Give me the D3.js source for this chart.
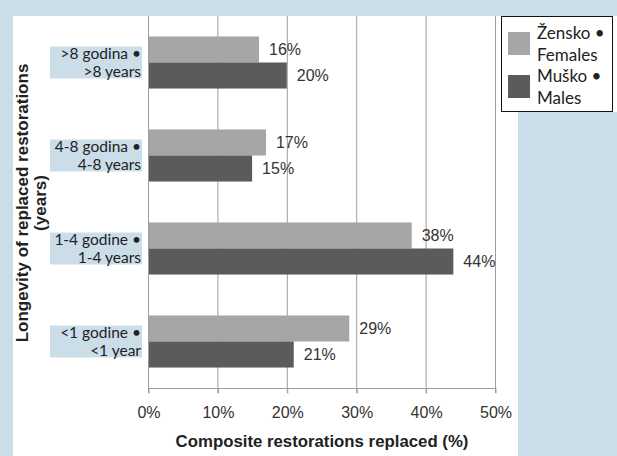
<!DOCTYPE html>
<html>
<head>
<meta charset="utf-8">
<script src="https://cdn.jsdelivr.net/npm/d3@7"></script>
<style>
  html, body { margin: 0; padding: 0; background: #cbdde9; }
  svg { display: block; }
</style>
</head>
<body>
<svg id="chart" width="617" height="456"></svg>
<script>
// Categories, top to bottom
const categories = [">8", "4-8", "1-4", "<1"];
const categoryLabels = [
  [">8 godina •", ">8 years"],
  ["4-8 godina •", "4-8 years"],
  ["1-4 godine •", "1-4 years"],
  ["<1 godine •", "<1 year"]
];
const legendLabels = [["Žensko •", "Females"], ["Muško •", "Males"]];
const females = [16, 17, 38, 29];
const males = [20, 15, 44, 21];
const xTicks = [0, 10, 20, 30, 40, 50];

const colors = ["#a6a6a8", "#5b5b5d"];
const blue = "#cbdde9";
const plainFont = "Liberation Sans, Arial, sans-serif";
const labelFont = "Lato, Open Sans, sans-serif";

const svg = d3.select("#chart");

// white panel behind the plot and legend
svg.append("rect").attr("x", 13).attr("y", 16).attr("width", 505).attr("height", 440).attr("fill", "#fff");
svg.append("rect").attr("x", 500).attr("y", 16).attr("width", 117).attr("height", 96).attr("fill", "#fff");

const plot = { left: 148, right: 495, top: 16, bottom: 388 };

const x = d3.scaleLinear().domain([0, 50]).range([plot.left, plot.right]);
const y = d3.scaleBand().domain(categories).range([plot.top, plot.bottom])
  .paddingInner(0.44).paddingOuter(0.22);
const ySub = d3.scaleBand().domain([0, 1]).range([0, y.bandwidth()]);

// gridlines
svg.append("g").selectAll("line").data(xTicks.slice(1)).join("line")
  .attr("x1", d => x(d) + 0.5).attr("x2", d => x(d) + 0.5)
  .attr("y1", plot.top).attr("y2", plot.bottom + 5)
  .attr("stroke", "#9d9d9d").attr("stroke-width", 1);

// bottom axis
const xAxis = d3.axisBottom(x).tickValues(xTicks).tickFormat(d => d + "%")
  .tickSize(5).tickPadding(13);
const gx = svg.append("g").attr("transform", `translate(0.5,${plot.bottom + 0.5})`).call(xAxis);
gx.select(".domain").attr("stroke", "#9d9d9d").attr("d", `M${plot.left - 0.5},0H${plot.right - 0.5}`);
gx.selectAll(".tick line").attr("stroke", "#9d9d9d");
gx.selectAll(".tick text").attr("fill", "#333").attr("font-family", plainFont)
  .attr("font-size", 16);

// vertical axis line
svg.append("line").attr("x1", plot.left + 0.5).attr("x2", plot.left + 0.5)
  .attr("y1", plot.top).attr("y2", plot.bottom + 5).attr("stroke", "#9d9d9d");

// bars with value labels
const series = [females, males];
series.forEach((vals, si) => {
  const g = svg.append("g");
  g.selectAll("rect").data(vals).join("rect")
    .attr("x", x(0) + 1)
    .attr("y", (d, i) => y(categories[i]) + ySub(si))
    .attr("width", d => x(d) - x(0) - 1)
    .attr("height", ySub.bandwidth())
    .attr("fill", colors[si]);
  g.selectAll("text").data(vals).join("text")
    .attr("x", d => x(d) + 10)
    .attr("y", (d, i) => y(categories[i]) + ySub(si) + ySub.bandwidth() / 2)
    .attr("dy", "0.35em")
    .attr("fill", "#333")
    .attr("font-family", plainFont)
    .attr("font-size", 16)
    .text(d => d + "%");
});

// category labels on blue boxes
const catG = svg.append("g");
categories.forEach((c, i) => {
  const cy = y(c) + y.bandwidth() / 2;
  catG.append("rect").attr("x", 50).attr("y", cy - 16).attr("width", 92).attr("height", 32).attr("fill", blue);
  categoryLabels[i].forEach((t, li) => {
    catG.append("text")
      .attr("x", 141).attr("y", cy - 9.4 + li * 18.8)
      .attr("dy", "0.35em")
      .attr("text-anchor", "end")
      .attr("fill", "#222")
      .attr("font-family", labelFont)
      .attr("font-size", 15.5)
      .text(t);
  });
});

// axis titles
svg.append("text")
  .attr("x", 322).attr("y", 441).attr("dy", "0.35em")
  .attr("text-anchor", "middle").attr("font-weight", "bold")
  .attr("fill", "#222").attr("font-family", plainFont)
  .attr("font-size", 16.8)
  .text("Composite restorations replaced (%)");

const yTitle = svg.append("text")
  .attr("transform", "translate(22,203) rotate(-90)")
  .attr("text-anchor", "middle").attr("font-weight", "bold")
  .attr("fill", "#222").attr("font-family", plainFont)
  .attr("font-size", 17);
yTitle.append("tspan").attr("x", 0).attr("dy", "0.35em").text("Longevity of replaced restorations");
yTitle.append("tspan").attr("x", 0).attr("dy", 18).text("(years)");

// legend
const lg = svg.append("g");
lg.append("rect").attr("x", 501.5).attr("y", 16.5).attr("width", 111).attr("height", 95)
  .attr("fill", "#fff").attr("stroke", "#111");
legendLabels.forEach((lines, i) => {
  const top = 32 + i * 43;
  lg.append("rect").attr("x", 508).attr("y", top).attr("width", 22).attr("height", 23).attr("fill", colors[i]);
  lines.forEach((t, li) => {
    lg.append("text").attr("x", 537).attr("y", top + 1 + li * 22)
      .attr("dy", "0.35em")
      .attr("fill", "#222")
      .attr("font-family", labelFont)
      .attr("font-size", 17)
      .text(t);
  });
});
</script>
</body>
</html>
